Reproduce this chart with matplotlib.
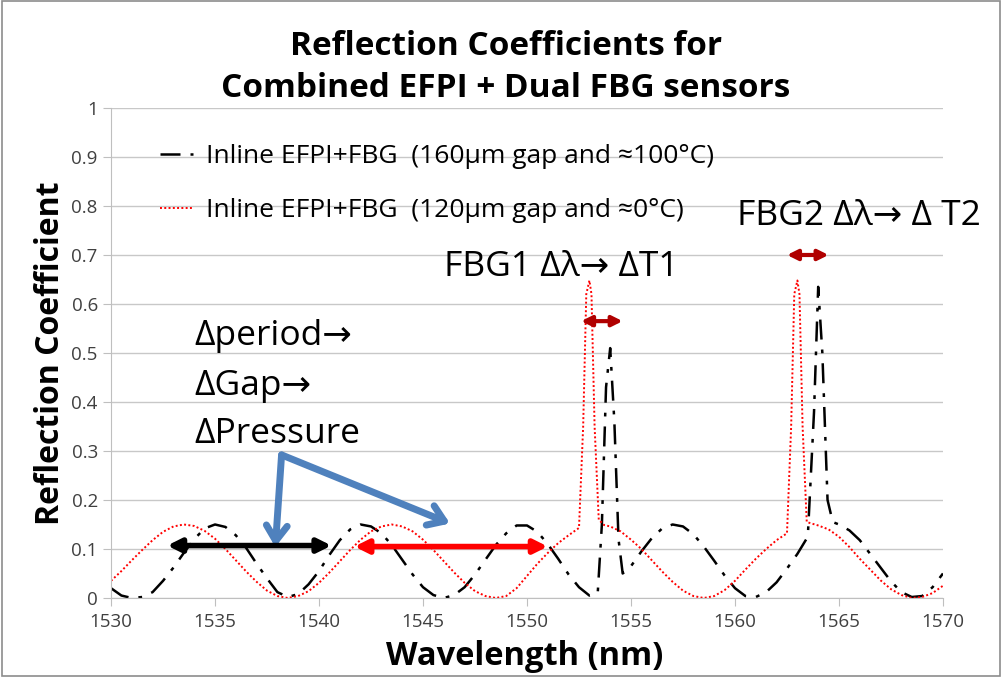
import numpy as np
import matplotlib
matplotlib.use("Agg")
import matplotlib.pyplot as plt
from matplotlib.patches import Rectangle

plt.rcParams["font.family"] = ["Open Sans", "DejaVu Sans"]

# 160 um gap, ~100 C (black dash-dot)
wl_hot = [1530.0, 1530.5, 1531.0, 1531.5, 1532.0, 1532.5, 1533.0, 1533.5, 1534.0, 1534.5,
          1535.0, 1535.5, 1536.0, 1536.5, 1537.0, 1537.5, 1538.0, 1538.5, 1539.0, 1539.5,
          1540.0, 1540.5, 1541.0, 1541.5, 1542.0, 1542.5, 1543.0, 1543.5, 1544.0, 1544.5,
          1545.0, 1545.5, 1546.0, 1546.5, 1547.0, 1547.5, 1548.0, 1548.5, 1549.0, 1549.5,
          1550.0, 1550.5, 1551.0, 1551.5, 1552.0, 1552.5, 1553.0, 1553.4, 1553.6, 1553.8,
          1554.0, 1554.2, 1554.4, 1554.6, 1555.0, 1555.5, 1556.0, 1556.5, 1557.0, 1557.5,
          1558.0, 1558.5, 1559.0, 1559.5, 1560.0, 1560.5, 1561.0, 1561.5, 1562.0, 1562.5,
          1563.0, 1563.5, 1563.8, 1564.0, 1564.2, 1564.45, 1564.7, 1565.0, 1565.5, 1566.0,
          1566.5, 1567.0, 1567.5, 1568.0, 1568.5, 1569.0, 1569.5, 1570.0]
r_hot = [0.020, 0.005, 0.000, 0.002, 0.012, 0.035, 0.062, 0.092, 0.120, 0.142,
         0.150, 0.145, 0.128, 0.102, 0.070, 0.040, 0.012, 0.002, 0.008, 0.028,
         0.055, 0.088, 0.118, 0.140, 0.150, 0.146, 0.132, 0.108, 0.078, 0.048,
         0.022, 0.006, 0.000, 0.006, 0.022, 0.048, 0.078, 0.108, 0.132, 0.148,
         0.148, 0.135, 0.110, 0.080, 0.048, 0.022, 0.005, 0.010, 0.150, 0.430,
         0.510, 0.360, 0.120, 0.050, 0.065, 0.095, 0.122, 0.142, 0.150, 0.146,
         0.130, 0.105, 0.076, 0.046, 0.020, 0.004, 0.002, 0.012, 0.032, 0.060,
         0.090, 0.125, 0.380, 0.635, 0.500, 0.200, 0.155, 0.150, 0.138, 0.118,
         0.090, 0.062, 0.034, 0.012, 0.002, 0.004, 0.022, 0.050]

# 120 um gap, ~0 C (red dotted)
wl_cold = [1530.0, 1530.5, 1531.0, 1531.5, 1532.0, 1532.5, 1533.0, 1533.5, 1534.0, 1534.5,
           1535.0, 1535.5, 1536.0, 1536.5, 1537.0, 1537.5, 1538.0, 1538.5, 1539.0, 1539.5,
           1540.0, 1540.5, 1541.0, 1541.5, 1542.0, 1542.5, 1543.0, 1543.5, 1544.0, 1544.5,
           1545.0, 1545.5, 1546.0, 1546.5, 1547.0, 1547.5, 1548.0, 1548.5, 1549.0, 1549.5,
           1550.0, 1550.5, 1551.0, 1551.5, 1552.0, 1552.5, 1552.7, 1552.85, 1553.0, 1553.1,
           1553.25, 1553.45, 1553.7, 1554.0, 1554.5, 1555.0, 1555.5, 1556.0, 1556.5, 1557.0,
           1557.5, 1558.0, 1558.5, 1559.0, 1559.5, 1560.0, 1560.5, 1561.0, 1561.5, 1562.0,
           1562.5, 1562.7, 1562.85, 1563.0, 1563.1, 1563.25, 1563.45, 1564.0, 1564.5, 1565.0,
           1565.5, 1566.0, 1566.5, 1567.0, 1567.5, 1568.0, 1568.5, 1569.0, 1569.5, 1570.0]
r_cold = [0.035, 0.055, 0.077, 0.098, 0.118, 0.135, 0.146, 0.150, 0.147, 0.137,
          0.121, 0.100, 0.077, 0.054, 0.033, 0.015, 0.004, 0.000, 0.004, 0.014,
          0.031, 0.052, 0.075, 0.098, 0.119, 0.136, 0.146, 0.150, 0.146, 0.136,
          0.119, 0.098, 0.075, 0.052, 0.031, 0.014, 0.004, 0.000, 0.004, 0.020,
          0.045, 0.070, 0.092, 0.112, 0.128, 0.143, 0.350, 0.620, 0.648, 0.620,
          0.350, 0.160, 0.149, 0.146, 0.136, 0.119, 0.100, 0.077, 0.054, 0.033,
          0.015, 0.004, 0.000, 0.004, 0.016, 0.035, 0.058, 0.080, 0.100, 0.118,
          0.132, 0.350, 0.620, 0.648, 0.620, 0.350, 0.155, 0.148, 0.140, 0.125,
          0.104, 0.080, 0.058, 0.036, 0.018, 0.006, 0.000, 0.002, 0.010, 0.025]

label_hot = "Inline EFPI+FBG  (160\u00b5m gap and \u2248100\u00b0C)"
label_cold = "Inline EFPI+FBG  (120\u00b5m gap and \u22480\u00b0C)"

fig = plt.figure(figsize=(10.02, 6.77), dpi=100)
ax = fig.add_axes([0.1108, 0.1167, 0.8303, 0.7238])

ax.plot(wl_hot, r_hot, color="black", lw=1.8, dashes=(8, 4, 1.5, 4), label=label_hot)
ax.plot(wl_cold, r_cold, color="red", lw=1.4, dashes=(1, 1.2), label=label_cold)

ax.set_xlim(1530, 1570)
ax.set_ylim(0, 1)
ax.set_xticks(np.arange(1530, 1571, 5))
ax.set_yticks(np.arange(0, 1.01, 0.1))
ax.set_yticklabels(["0", "0.1", "0.2", "0.3", "0.4", "0.5", "0.6", "0.7", "0.8", "0.9", "1"])
ax.grid(axis="y", color="#c8c8c8", lw=1)
ax.set_axisbelow(True)
for s in ["top", "right"]:
    ax.spines[s].set_visible(False)
for s in ["left", "bottom"]:
    ax.spines[s].set_color("#bfbfbf")
ax.tick_params(axis="both", colors="#bfbfbf", labelcolor="#404040", labelsize=13.5,
               length=6, direction="out")
ax.tick_params(axis="x", pad=5)

ax.set_xlabel("Wavelength (nm)", fontsize=23.5, fontweight="bold")
ax.xaxis.set_label_coords(0.4976, -0.085)
ax.set_ylabel("Reflection Coefficient", fontsize=23, fontweight="bold")
ax.yaxis.set_label_coords(-0.053, 0.5)
fig.text(0.505, 0.9, "Reflection Coefficients for\nCombined EFPI + Dual FBG sensors",
         ha="center", va="center", fontsize=24, fontweight="bold", linespacing=1.35)

ax.legend(loc="upper left", bbox_to_anchor=(0.03, 0.974), frameon=False, fontsize=19,
          handlelength=1.25, handletextpad=0.5, labelspacing=1.1)

# annotations
ax.text(1534.0, 0.535, "\u0394period\u2192", fontsize=25.5, va="center")
ax.text(1534.0, 0.433, "\u0394Gap\u2192", fontsize=25.5, va="center")
ax.text(1534.0, 0.335, "\u0394Pressure", fontsize=25.5, va="center")
ax.text(1546.0, 0.675, "FBG1 \u0394\u03bb\u2192 \u0394T1", fontsize=25.5, va="center")
ax.text(1560.1, 0.78, "FBG2 \u0394\u03bb\u2192 \u0394 T2", fontsize=25.5, va="center",
        clip_on=False)

blue = "#4f81bd"
ax.annotate("", xy=(1537.9, 0.104), xytext=(1538.2, 0.292),
            arrowprops=dict(arrowstyle="->, head_length=1.1, head_width=0.75",
                            color=blue, lw=5, shrinkA=0, shrinkB=0))
ax.annotate("", xy=(1546.3, 0.152), xytext=(1538.2, 0.292),
            arrowprops=dict(arrowstyle="->, head_length=1.1, head_width=0.75",
                            color=blue, lw=5, shrinkA=0, shrinkB=0))
ax.annotate("", xy=(1532.7, 0.107), xytext=(1540.6, 0.107),
            arrowprops=dict(arrowstyle="<|-|>, head_length=0.8, head_width=0.4",
                            color="black", lw=4, shrinkA=0, shrinkB=0))
ax.annotate("", xy=(1541.7, 0.105), xytext=(1551.0, 0.105),
            arrowprops=dict(arrowstyle="<|-|>, head_length=0.8, head_width=0.4",
                            color="red", lw=4, shrinkA=0, shrinkB=0))
ax.annotate("", xy=(1552.6, 0.565), xytext=(1554.6, 0.565),
            arrowprops=dict(arrowstyle="<|-|>, head_length=0.6, head_width=0.3",
                            color="#b00000", lw=3, shrinkA=0, shrinkB=0))
ax.annotate("", xy=(1562.5, 0.70), xytext=(1564.5, 0.70),
            arrowprops=dict(arrowstyle="<|-|>, head_length=0.6, head_width=0.3",
                            color="#b00000", lw=3, shrinkA=0, shrinkB=0))

# chart border
fig.patches.append(Rectangle((0.002, 0.002), 0.996, 0.996, transform=fig.transFigure,
                             fill=False, edgecolor="#8c8c8c", lw=1.2))

fig.savefig("out.png", dpi=100)
